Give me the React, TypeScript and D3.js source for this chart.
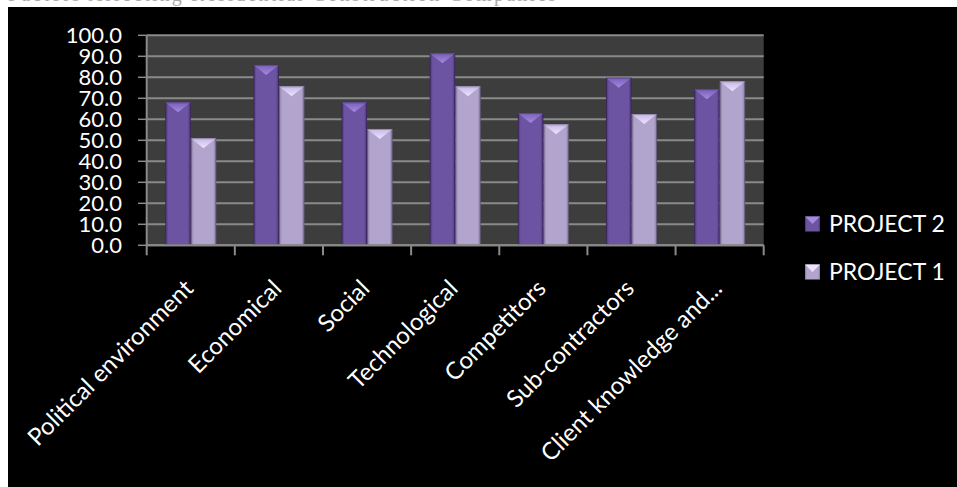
import React from "react";
import * as d3 from "d3";

const categories = [
  "Political environment",
  "Economical",
  "Social",
  "Technological",
  "Competitors",
  "Sub-contractors",
  "Client knowledge and...",
];
const seriesNames = ["PROJECT 2", "PROJECT 1"];
const project2 = [68.1, 85.9, 68.1, 91.4, 63.0, 79.8, 74.3];
const project1 = [51.0, 75.7, 55.4, 75.7, 57.6, 62.5, 78.1];
const yTicks = [0, 10, 20, 30, 40, 50, 60, 70, 80, 90, 100];

const W = 957;
const H = 487;
const plot = { left: 146.7, right: 763.7, top: 35.3, bottom: 245.3 };
const FONT = "Lato, 'Open Sans', sans-serif";

const palette = {
  "PROJECT 2": { edge: "#4a3275", mid: "#6c54a2", cap: "#a48ae0", capEdge: "#7a5fba" },
  "PROJECT 1": { edge: "#85769f", mid: "#b2a5cd", cap: "#efe3ff", capEdge: "#c6b8e4" },
};

export default function App() {
  const x = d3.scaleBand<string>().domain(categories).range([plot.left, plot.right]).padding(0);
  const xs = d3
    .scaleBand<string>()
    .domain(seriesNames)
    .range([0, x.bandwidth()])
    .paddingInner(0)
    .paddingOuter(0.728);
  const y = d3.scaleLinear().domain([0, 100]).range([plot.bottom, plot.top]);

  const rows = categories.map((c, i) => ({
    cat: c,
    vals: [
      { s: "PROJECT 2", v: project2[i] },
      { s: "PROJECT 1", v: project1[i] },
    ],
  }));

  const bw = xs.bandwidth();
  const capH = 10;

  return (
    <div style={{ position: "absolute", left: 0, top: 0, width: W, height: H, background: "#fff" }}>
      <svg width={W} height={H} style={{ display: "block" }}>
        <defs>
          {seriesNames.map((s, k) => {
            const p = palette[s as keyof typeof palette];
            return (
              <linearGradient key={s} id={`body${k}`} x1="0" x2="1" y1="0" y2="0">
                <stop offset="0" stopColor={p.edge} />
                <stop offset="0.12" stopColor={p.mid} />
                <stop offset="0.5" stopColor={p.mid} />
                <stop offset="0.88" stopColor={p.mid} />
                <stop offset="1" stopColor={p.edge} />
              </linearGradient>
            );
          })}
          {seriesNames.map((s, k) => {
            const p = palette[s as keyof typeof palette];
            return (
              <linearGradient key={s} id={`cap${k}`} x1="0" x2="0" y1="0" y2="1">
                <stop offset="0" stopColor={p.capEdge} />
                <stop offset="1" stopColor={p.cap} />
              </linearGradient>
            );
          })}
        </defs>

        {/* caption line above the chart, cut by the frame */}
        <text
          x={8}
          y={1}
          fontFamily="'Liberation Serif', serif"
          fontSize={20}
          fill="#aaa"
          textLength={548}
          lengthAdjust="spacing"
        >
          Factors Affecting Residential Construction Companies
        </text>

        <rect x={8} y={7} width={W - 8} height={H - 7} fill="#000" />
        <rect
          x={plot.left}
          y={plot.top}
          width={plot.right - plot.left}
          height={plot.bottom - plot.top}
          fill="#3d3d3d"
        />

        {/* horizontal gridlines and y ticks */}
        {yTicks.map((t) => (
          <g key={t}>
            <line x1={plot.left} x2={plot.right} y1={y(t)} y2={y(t)} stroke="#8a8a8a" strokeWidth={2} />
            <line x1={138} x2={plot.left} y1={y(t)} y2={y(t)} stroke="#8a8a8a" strokeWidth={1.5} />
            <text
              x={122}
              y={y(t)}
              dy="0.36em"
              textAnchor="end"
              fontFamily={FONT}
              fontSize={22}
              fill="#fff"
            >
              {d3.format(".1f")(t)}
            </text>
          </g>
        ))}

        {/* bars */}
        {rows.map((r) => (
          <g key={r.cat} transform={`translate(${x(r.cat)},0)`}>
            {r.vals.map((d, k) => {
              const x0 = xs(d.s)!;
              const yt = y(d.v);
              const h = plot.bottom - yt;
              return (
                <g key={d.s}>
                  <rect x={x0} y={yt} width={bw} height={h} fill={`url(#body${k})`} />
                  <path
                    d={`M${x0},${yt} L${x0 + bw},${yt} L${x0 + bw / 2},${yt + capH} Z`}
                    fill={`url(#cap${k})`}
                  />
                  <rect
                    x={x0 + 0.5}
                    y={yt + 0.5}
                    width={bw - 1}
                    height={h - 1}
                    fill="none"
                    stroke="#000"
                    strokeOpacity={0.25}
                  />
                </g>
              );
            })}
          </g>
        ))}

        {/* axes */}
        <line x1={plot.left} x2={plot.left} y1={plot.top} y2={plot.bottom + 10} stroke="#8a8a8a" strokeWidth={2} />
        <line x1={plot.left} x2={plot.right} y1={plot.bottom} y2={plot.bottom} stroke="#8a8a8a" strokeWidth={2} />
        {categories.map((c) => (
          <line
            key={c}
            x1={x(c)! + x.bandwidth()}
            x2={x(c)! + x.bandwidth()}
            y1={plot.bottom}
            y2={plot.bottom + 10}
            stroke="#8a8a8a"
            strokeWidth={2}
          />
        ))}

        {/* category labels */}
        {categories.map((c) => {
          const cx = x(c)! + x.bandwidth() / 2 + 4;
          const cy = 290;
          return (
            <text
              key={c}
              transform={`translate(${cx},${cy}) rotate(-45)`}
              textAnchor="end"
              fontFamily={FONT}
              fontSize={24}
              fill="#fff"
            >
              {c}
            </text>
          );
        })}

        {/* legend */}
        {seriesNames.map((s, k) => {
          const ly = 224 + k * 48;
          const p = palette[s as keyof typeof palette];
          return (
            <g key={s} transform={`translate(805,${ly})`}>
              <rect x={0} y={-7.5} width={15} height={15} fill={`url(#body${k})`} />
              <path d={`M0,-7.5 L15,-7.5 L7.5,0 Z`} fill={p.cap} />
              <text x={24} y={0} dy="0.36em" fontFamily={FONT} fontSize={23} fill="#fff">
                {s}
              </text>
            </g>
          );
        })}
      </svg>
    </div>
  );
}
